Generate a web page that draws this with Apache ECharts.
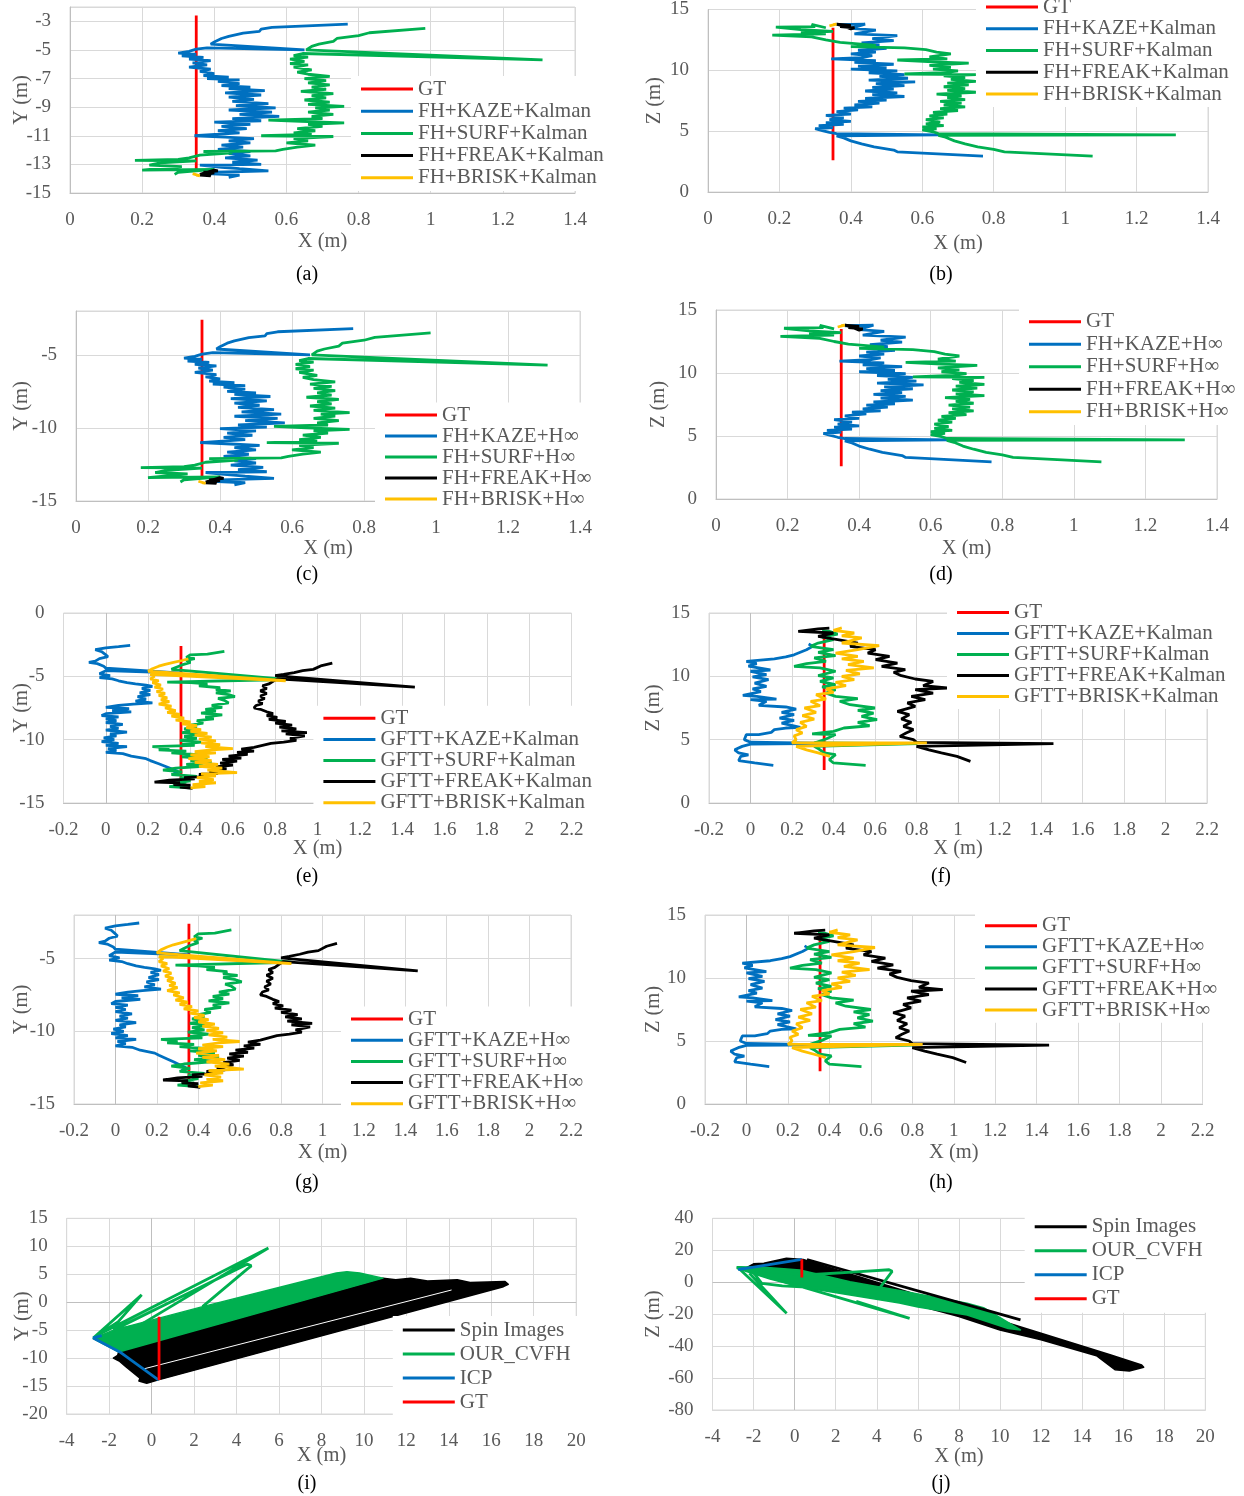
<!DOCTYPE html>
<html>
<head>
<meta charset="utf-8">
<title>Trajectory comparison</title>
<script src="https://cdn.jsdelivr.net/npm/echarts@6/dist/echarts.min.js"></script>
<style>
  html, body { margin: 0; padding: 0; background: #fff; }
  #chart { width: 1244px; height: 1496px; }
</style>
</head>
<body>
<div id="chart"></div>
<script>
// ---- legend names ----
const namesFhKalman = ['GT', 'FH+KAZE+Kalman', 'FH+SURF+Kalman', 'FH+FREAK+Kalman', 'FH+BRISK+Kalman'];
const namesFhHinf = ['GT', 'FH+KAZE+H∞', 'FH+SURF+H∞', 'FH+FREAK+H∞', 'FH+BRISK+H∞'];
const namesGfKalman = ['GT', 'GFTT+KAZE+Kalman', 'GFTT+SURF+Kalman', 'GFTT+FREAK+Kalman', 'GFTT+BRISK+Kalman'];
const namesGfHinf = ['GT', 'GFTT+KAZE+H∞', 'GFTT+SURF+H∞', 'GFTT+FREAK+H∞', 'GFTT+BRISK+H∞'];
const names3D = ['Spin Images', 'OUR_CVFH', 'ICP', 'GT'];

// ---- axis ranges [min, max, interval] ----
const xRangeFH = [0, 1.4, 0.2];
const xRangeGF = [-0.2, 2.2, 0.2];
const xRange3D = [-4, 20, 2];
const yRangeA = [-15, -2, 2];
const yRangeC = [-15, -2, 5];
const yRangeE = [-15, 0, 5];
const zRange = [0, 15, 5];
const yRangeI = [-20, 15, 5];
const zRangeJ = [-80, 40, 20];

// ---- FH, X-Y plane (a, c) ----
const gtFhXY = [[0.35, -2.6], [0.35, -13.5]];
const fhKazeXY = [[0.77,-3.2],[0.56,-3.42],[0.53,-3.55],[0.525,-3.7],[0.48,-3.82],[0.44,-4.05],[0.42,-4.2],[0.40,-4.45],[0.39,-4.6],[0.385,-4.72],[0.65,-5.0],[0.38,-4.85],[0.35,-4.95],[0.33,-5.1],[0.30,-5.22],[0.35,-5.3],[0.31,-5.42],[0.37,-5.52],[0.33,-5.65],[0.39,-5.75],[0.34,-5.9],[0.38,-6.05],[0.33,-6.2],[0.39,-6.35],[0.36,-6.5],[0.40,-6.65],[0.37,-6.8],[0.44,-6.9],[0.38,-7.0],[0.47,-7.1],[0.41,-7.2],[0.47,-7.35],[0.42,-7.5],[0.50,-7.6],[0.44,-7.7],[0.54,-7.85],[0.43,-8.0],[0.53,-8.15],[0.44,-8.3],[0.51,-8.45],[0.45,-8.6],[0.55,-8.75],[0.46,-8.9],[0.57,-9.05],[0.44,-9.2],[0.56,-9.35],[0.47,-9.5],[0.58,-9.65],[0.45,-9.8],[0.53,-9.95],[0.40,-10.05],[0.50,-10.2],[0.42,-10.35],[0.49,-10.5],[0.41,-10.65],[0.47,-10.8],[0.345,-11.0],[0.43,-11.1],[0.51,-11.2],[0.44,-11.35],[0.50,-11.5],[0.42,-11.65],[0.48,-11.8],[0.41,-11.95],[0.50,-12.1],[0.44,-12.25],[0.50,-12.4],[0.43,-12.55],[0.52,-12.7],[0.45,-12.85],[0.53,-13.0],[0.36,-13.05],[0.42,-13.2],[0.47,-13.3],[0.55,-13.45],[0.40,-13.55],[0.38,-13.65],[0.47,-13.75],[0.44,-13.9]];
const fhSurfXY = [[0.985,-3.5],[0.83,-3.8],[0.80,-4.0],[0.74,-4.2],[0.73,-4.4],[0.69,-4.6],[0.67,-4.75],[0.655,-5.0],[1.31,-5.7],[0.645,-5.25],[0.62,-5.4],[0.66,-5.5],[0.61,-5.65],[0.65,-5.8],[0.61,-5.95],[0.66,-6.05],[0.62,-6.2],[0.67,-6.4],[0.63,-6.55],[0.66,-6.7],[0.72,-6.85],[0.65,-7.0],[0.71,-7.15],[0.66,-7.3],[0.72,-7.45],[0.67,-7.6],[0.71,-7.75],[0.64,-7.9],[0.73,-8.05],[0.67,-8.2],[0.71,-8.35],[0.65,-8.5],[0.72,-8.65],[0.66,-8.8],[0.76,-8.95],[0.68,-9.05],[0.72,-9.2],[0.66,-9.35],[0.73,-9.5],[0.67,-9.65],[0.70,-9.8],[0.55,-9.9],[0.64,-10.0],[0.76,-10.1],[0.66,-10.2],[0.70,-10.35],[0.63,-10.5],[0.68,-10.65],[0.62,-10.8],[0.67,-10.9],[0.53,-11.0],[0.73,-11.05],[0.62,-11.2],[0.66,-11.35],[0.60,-11.5],[0.68,-11.65],[0.63,-11.8],[0.59,-11.95],[0.57,-12.05],[0.37,-12.1],[0.45,-12.2],[0.36,-12.35],[0.33,-12.55],[0.30,-12.65],[0.18,-12.72],[0.35,-12.75],[0.25,-12.9],[0.22,-13.05],[0.31,-13.15],[0.20,-13.4],[0.40,-13.35],[0.30,-13.55],[0.29,-13.7]];
const fhFreakXY = [[0.36,-13.7],[0.40,-13.4],[0.41,-13.45],[0.37,-13.55],[0.40,-13.6],[0.36,-13.75],[0.39,-13.8],[0.38,-13.65]];
const fhBriskXY = [[0.34,-13.65],[0.36,-13.8],[0.35,-13.75]];

// ---- FH, X-Z plane (b, d) ----
const gtFhXZ = [[0.35, 2.6], [0.35, 13.5]];
const fhKazeXZ = [[0.77,2.95],[0.53,3.3],[0.52,3.45],[0.465,3.7],[0.43,3.95],[0.40,4.2],[0.38,4.45],[0.36,4.62],[0.65,4.7],[0.36,4.8],[0.34,4.9],[0.32,5.05],[0.30,5.2],[0.35,5.3],[0.31,5.45],[0.38,5.55],[0.33,5.7],[0.40,5.8],[0.34,5.95],[0.38,6.1],[0.33,6.3],[0.40,6.4],[0.36,6.6],[0.42,6.75],[0.38,6.9],[0.46,7.0],[0.41,7.15],[0.48,7.3],[0.42,7.45],[0.50,7.55],[0.44,7.7],[0.55,7.85],[0.46,8.0],[0.53,8.15],[0.44,8.3],[0.52,8.45],[0.46,8.6],[0.55,8.75],[0.47,8.9],[0.58,9.05],[0.45,9.2],[0.56,9.35],[0.48,9.5],[0.55,9.65],[0.45,9.8],[0.53,9.95],[0.40,10.1],[0.50,10.2],[0.42,10.35],[0.52,10.5],[0.41,10.65],[0.47,10.8],[0.345,10.95],[0.43,11.05],[0.46,11.2],[0.40,11.35],[0.47,11.5],[0.42,11.65],[0.50,11.8],[0.44,11.95],[0.48,12.1],[0.43,12.25],[0.52,12.45],[0.46,12.6],[0.53,12.85],[0.41,13.0],[0.47,13.3],[0.40,13.45],[0.44,13.8],[0.36,13.75]];
const fhSurfXZ = [[1.077,2.95],[0.83,3.3],[0.80,3.5],[0.755,3.7],[0.72,3.95],[0.69,4.2],[0.665,4.5],[0.645,4.65],[1.31,4.7],[0.645,4.8],[0.63,4.95],[0.60,5.1],[0.64,5.2],[0.60,5.35],[0.66,5.45],[0.61,5.6],[0.65,5.75],[0.61,5.95],[0.66,6.1],[0.62,6.25],[0.67,6.4],[0.63,6.55],[0.70,6.7],[0.65,6.85],[0.72,7.0],[0.66,7.15],[0.71,7.3],[0.65,7.45],[0.72,7.6],[0.67,7.75],[0.71,7.9],[0.64,8.05],[0.75,8.2],[0.67,8.35],[0.72,8.5],[0.66,8.65],[0.73,8.8],[0.67,8.95],[0.75,9.1],[0.68,9.25],[0.72,9.4],[0.66,9.55],[0.75,9.65],[0.55,9.7],[0.66,9.8],[0.70,9.95],[0.63,10.1],[0.68,10.25],[0.62,10.4],[0.73,10.6],[0.63,10.7],[0.53,10.85],[0.67,10.95],[0.62,11.1],[0.68,11.35],[0.64,11.5],[0.61,11.7],[0.55,11.85],[0.40,11.95],[0.47,12.05],[0.37,12.3],[0.33,12.5],[0.29,12.75],[0.18,12.9],[0.33,13.0],[0.26,13.1],[0.35,13.2],[0.26,13.35],[0.19,13.55],[0.30,13.6],[0.29,13.78],[0.33,13.5]];
const fhFreakXZ = [[0.37,13.75],[0.40,13.4],[0.41,13.5],[0.37,13.6],[0.40,13.7],[0.36,13.8],[0.39,13.55]];
const fhBriskXZ = [[0.34,13.65],[0.36,13.8],[0.35,13.75]];

// ---- GFTT, X-Y plane (e, g) ----
const gtGfXY = [[0.355, -2.6], [0.355, -13.7]];
const gfKazeXY = [[0.115,-2.55],[0.06,-2.65],[0.0,-2.75],[-0.05,-2.9],[-0.02,-3.05],[0.0,-3.3],[0.01,-3.45],[-0.03,-3.6],[-0.05,-3.8],[-0.08,-3.9],[-0.04,-4.0],[-0.01,-4.2],[0.0,-4.35],[0.36,-4.75],[0.0,-4.55],[-0.03,-4.8],[0.02,-4.95],[-0.03,-5.1],[0.03,-5.2],[0.06,-5.35],[0.10,-5.5],[0.14,-5.6],[0.19,-5.7],[0.22,-5.8],[0.17,-5.95],[0.21,-6.1],[0.16,-6.3],[0.21,-6.45],[0.15,-6.6],[0.19,-6.8],[0.14,-6.95],[0.22,-7.1],[0.13,-7.2],[0.06,-7.3],[0.0,-7.45],[0.11,-7.55],[0.03,-7.7],[0.12,-7.8],[0.0,-7.95],[-0.02,-8.1],[0.06,-8.2],[0.0,-8.35],[0.05,-8.5],[0.0,-8.65],[0.08,-8.8],[0.02,-8.95],[0.06,-9.1],[0.0,-9.25],[0.1,-9.4],[0.02,-9.55],[0.05,-9.7],[-0.01,-9.85],[0.04,-10.0],[-0.02,-10.15],[0.06,-10.3],[0.0,-10.45],[0.1,-10.55],[0.01,-10.7],[0.05,-10.85],[0.0,-11.0],[0.08,-11.1],[0.12,-11.3],[0.19,-11.5],[0.21,-11.65],[0.25,-11.9],[0.28,-12.1],[0.31,-12.3],[0.34,-12.5],[0.32,-12.7]];
const gfSurfXY = [[0.56,-3.03],[0.48,-3.25],[0.40,-3.3],[0.38,-3.5],[0.42,-3.6],[0.38,-3.75],[0.40,-3.9],[0.36,-4.1],[0.33,-4.3],[0.31,-4.45],[0.85,-5.25],[0.29,-5.45],[0.40,-5.5],[0.48,-5.6],[0.44,-5.75],[0.54,-5.9],[0.52,-6.05],[0.59,-6.15],[0.52,-6.3],[0.58,-6.45],[0.61,-6.6],[0.53,-6.75],[0.56,-6.9],[0.58,-7.1],[0.50,-7.3],[0.55,-7.45],[0.47,-7.6],[0.52,-7.75],[0.45,-7.9],[0.55,-8.05],[0.47,-8.2],[0.51,-8.35],[0.43,-8.5],[0.46,-8.7],[0.40,-8.85],[0.43,-9.0],[0.37,-9.15],[0.42,-9.3],[0.36,-9.45],[0.44,-9.6],[0.37,-9.75],[0.43,-9.9],[0.35,-10.05],[0.45,-10.2],[0.36,-10.35],[0.42,-10.45],[0.22,-10.55],[0.30,-10.65],[0.25,-10.8],[0.38,-10.9],[0.31,-11.05],[0.45,-11.2],[0.36,-11.35],[0.48,-11.5],[0.40,-11.65],[0.50,-11.8],[0.38,-11.95],[0.46,-12.1],[0.33,-12.25],[0.27,-12.4],[0.36,-12.55],[0.31,-12.75],[0.43,-12.9],[0.35,-13.05],[0.40,-13.25],[0.32,-13.45],[0.38,-13.55],[0.30,-13.7],[0.40,-13.8]];
const gfFreakXY = [[1.07,-3.95],[1.02,-4.15],[0.98,-4.45],[0.93,-4.55],[0.89,-4.7],[0.84,-4.85],[0.80,-4.95],[1.46,-5.85],[0.81,-5.2],[0.79,-5.4],[0.77,-5.6],[0.74,-5.75],[0.76,-5.95],[0.73,-6.15],[0.76,-6.35],[0.73,-6.55],[0.75,-6.75],[0.72,-6.95],[0.74,-7.15],[0.71,-7.3],[0.70,-7.5],[0.73,-7.6],[0.76,-7.8],[0.79,-7.95],[0.76,-8.1],[0.81,-8.25],[0.77,-8.4],[0.85,-8.55],[0.80,-8.7],[0.88,-8.85],[0.82,-9.0],[0.90,-9.15],[0.83,-9.3],[0.95,-9.45],[0.85,-9.55],[0.94,-9.7],[0.87,-9.9],[0.90,-10.05],[0.84,-10.2],[0.78,-10.3],[0.74,-10.45],[0.70,-10.6],[0.64,-10.75],[0.70,-10.9],[0.62,-11.0],[0.67,-11.15],[0.58,-11.3],[0.64,-11.45],[0.55,-11.55],[0.62,-11.7],[0.54,-11.85],[0.60,-12.0],[0.52,-12.15],[0.57,-12.3],[0.49,-12.5],[0.53,-12.65],[0.44,-12.75],[0.48,-12.9],[0.37,-13.0],[0.42,-13.1],[0.30,-13.2],[0.23,-13.35],[0.35,-13.4],[0.32,-13.55],[0.40,-13.6],[0.35,-13.75],[0.41,-13.85]];
const gfBriskXY = [[0.39,-3.63],[0.36,-3.75],[0.32,-3.9],[0.28,-4.05],[0.25,-4.2],[0.22,-4.4],[0.20,-4.6],[0.85,-5.35],[0.21,-4.85],[0.23,-5.0],[0.21,-5.2],[0.25,-5.35],[0.22,-5.5],[0.26,-5.7],[0.23,-5.85],[0.27,-6.0],[0.24,-6.2],[0.28,-6.35],[0.25,-6.5],[0.29,-6.7],[0.26,-6.85],[0.30,-7.0],[0.25,-7.2],[0.31,-7.35],[0.28,-7.5],[0.33,-7.7],[0.29,-7.85],[0.35,-8.0],[0.31,-8.15],[0.37,-8.3],[0.33,-8.45],[0.40,-8.6],[0.36,-8.75],[0.43,-8.9],[0.38,-9.05],[0.45,-9.2],[0.40,-9.35],[0.48,-9.5],[0.42,-9.65],[0.50,-9.8],[0.44,-9.95],[0.52,-10.1],[0.45,-10.25],[0.54,-10.4],[0.47,-10.55],[0.60,-10.7],[0.50,-10.8],[0.42,-10.95],[0.52,-11.05],[0.40,-11.2],[0.49,-11.35],[0.39,-11.5],[0.50,-11.65],[0.42,-11.8],[0.53,-11.95],[0.44,-12.1],[0.55,-12.25],[0.48,-12.4],[0.62,-12.6],[0.45,-12.7],[0.52,-12.85],[0.43,-13.0],[0.51,-13.15],[0.44,-13.3],[0.52,-13.4],[0.41,-13.55],[0.47,-13.7],[0.40,-13.8]];

// ---- GFTT, X-Z plane (f, h) ----
const gtGfXZ = [[0.355, 2.6], [0.355, 13.5]];
const gfKazeXZ = [[0.11,2.97],[0.02,3.16],[-0.057,3.34],[-0.047,3.68],[-0.01,3.8],[-0.057,3.95],[-0.076,4.2],[-0.04,4.47],[0.0,4.65],[0.38,4.7],[0.0,4.8],[-0.03,5.0],[-0.02,5.4],[0.04,5.4],[0.1,5.58],[0.115,5.79],[0.17,5.92],[0.24,5.97],[0.15,6.3],[0.21,6.52],[0.14,6.7],[0.21,6.97],[0.15,7.16],[0.22,7.42],[0.17,7.58],[0.04,7.71],[0.077,8.03],[0.0,8.16],[0.125,8.2],[0.03,8.42],[-0.037,8.5],[0.05,8.8],[0.01,9.0],[0.077,9.2],[0.02,9.47],[0.087,9.74],[0.01,9.95],[0.077,10.13],[0.0,10.4],[0.096,10.5],[-0.01,10.8],[0.03,11.0],[-0.02,11.18],[0.115,11.37],[0.17,11.53],[0.21,11.7],[0.27,12.1],[0.3,12.37],[0.28,12.55]];
const gfSurfXZ = [[0.555,2.97],[0.40,3.16],[0.38,3.42],[0.41,3.82],[0.355,3.95],[0.33,4.26],[0.307,4.47],[0.804,4.68],[0.307,4.74],[0.364,5.05],[0.41,5.4],[0.297,5.45],[0.40,5.66],[0.45,5.92],[0.574,6.1],[0.517,6.37],[0.61,6.58],[0.535,6.84],[0.593,7.1],[0.517,7.32],[0.60,7.5],[0.48,7.76],[0.43,8.03],[0.517,8.24],[0.41,8.42],[0.364,8.68],[0.41,8.95],[0.345,9.16],[0.41,9.34],[0.335,9.6],[0.40,9.87],[0.326,10.05],[0.41,10.4],[0.335,10.66],[0.21,10.79],[0.27,11.0],[0.364,11.18],[0.307,11.45],[0.41,11.63],[0.326,11.9],[0.40,12.1],[0.29,12.37],[0.326,12.63],[0.40,12.9],[0.345,13.1],[0.42,13.34],[0.38,13.55],[0.345,13.6]];
const gfFreakXZ = [[1.06,3.29],[0.995,3.68],[0.92,3.95],[0.86,4.2],[0.80,4.47],[1.46,4.68],[0.80,4.79],[0.785,5.0],[0.72,5.26],[0.75,5.53],[0.785,5.79],[0.737,6.05],[0.775,6.37],[0.727,6.63],[0.765,6.97],[0.708,7.24],[0.794,7.63],[0.756,7.9],[0.842,8.16],[0.775,8.42],[0.88,8.68],[0.794,8.95],[0.947,9.08],[0.832,9.26],[0.88,9.6],[0.794,9.79],[0.727,10.05],[0.69,10.32],[0.746,10.53],[0.632,10.79],[0.708,11.05],[0.603,11.32],[0.67,11.58],[0.565,11.84],[0.603,12.1],[0.48,12.37],[0.517,12.63],[0.42,12.9],[0.326,13.16],[0.40,13.42],[0.23,13.55],[0.326,13.74],[0.38,13.8]];
const gfBriskXZ = [[0.383,3.68],[0.326,3.95],[0.27,4.2],[0.22,4.47],[0.85,4.74],[0.2,4.74],[0.22,5.0],[0.21,5.3],[0.25,5.53],[0.22,5.79],[0.27,6.05],[0.24,6.37],[0.307,6.63],[0.25,6.9],[0.316,7.16],[0.26,7.5],[0.335,7.68],[0.29,8.03],[0.364,8.2],[0.316,8.55],[0.40,8.74],[0.364,9.0],[0.46,9.26],[0.41,9.53],[0.50,9.74],[0.44,10.0],[0.527,10.2],[0.46,10.47],[0.594,10.66],[0.47,10.92],[0.546,11.18],[0.44,11.37],[0.517,11.58],[0.41,11.84],[0.517,12.1],[0.62,12.42],[0.44,12.63],[0.536,13.03],[0.44,13.2],[0.5,13.42],[0.40,13.63],[0.44,13.82]];

// ---- point cloud methods, X-Y plane (i) ----
const gtI = [[0.35, -2.6], [0.35, -13.9]];
const icpI = [[0.32,-13.9],[-1.5,-8.9],[-2.75,-6.4],[-2.35,-6.0]];
const cvfhLoopsI = [[-2.75,-6.4],[-0.47,1.3],[-1.6,-3.6],[-2.6,-6.0],[5.5,9.7],[-0.55,-4.1],[-1.8,-5.0],[4.5,6.8],[4.7,6.5],[4.5,5.9],[2.4,-0.8]];
const cvfhFillI = [[-2.75,-6.5],[-1.8,-5.0],[2.4,-0.8],[8.7,5.2],[9.2,5.45],[9.8,5.2],[10.9,4.3],[-1.55,-8.9],[-2.3,-7.4]];
const spinFillI = [[-1.55,-8.9],[10.9,4.3],[11.5,4.0],[12.2,4.3],[13.0,3.8],[14.4,4.0],[15.0,3.5],[16.65,3.7],[16.8,3.2],[16.57,2.77],[0.32,-13.9],[-0.23,-14.5],[-0.6,-14.1],[-0.55,-13.6],[-1.2,-11.6],[-1.5,-10.6],[-1.8,-10.0],[-1.6,-9.5]];
const spinGapI = [[-0.39,-11.95],[14.13,2.18]];

// ---- point cloud methods, X-Z plane (j) ----
const gtJ = [[0.35, 3.0], [0.35, 14.3]];
const icpJ = [[0.35,14.3],[-2.75,7.8],[-2.5,8.6]];
const spinFillJ = [[-2.0,11.5],[-1.5,11.8],[-0.4,15.0],[0.42,14.2],[4,0.0],[8,-16.0],[12,-32],[15.4,-45.6],[16.9,-51.8],[17.0,-53.2],[16.3,-55.6],[15.6,-54.8],[14.7,-46],[12,-36],[10,-29.9],[8,-21.5],[4,-7.5],[0,3],[-2.5,8]];
const spinLineJ = [[0.6,14.2],[11.0,-23.6]];
const cvfhBandJ = [[-2.8,9.6],[-1.5,9.4],[0.26,7.6],[2.7,0.3],[5.1,-5.2],[8.4,-13.2],[9.2,-16.0],[11.0,-29.9],[10.4,-29.0],[8.4,-20.5],[6.0,-15.5],[5.1,-13.0],[2.7,-8.0],[0.3,-3.0],[-1.2,2.0],[-2.8,8.6]];
const cvfhLoopsJ = [[-2.2,5.6],[-0.39,-19.5],[-2.75,9.0],[0.5,4.5],[3.0,6.5],[4.6,7.8],[4.75,6.8],[4.0,-6.0],[2.5,-4.5],[0.1,-2.8],[-0.6,-2.3],[-1.6,-0.7],[-2.0,6.0],[5.6,-22.6],[3.0,-12.0]];

// ---- styling ----
const FONT = '"Liberation Serif", "Times New Roman", serif';
const TEXT = '#595959';
const GRID_LINE = '#d9d9d9';
const AXIS_LINE = '#bfbfbf';
const seriesColor = {
  'GT': '#FF0000', 'ICP': '#0070C0', 'OUR_CVFH': '#00B050', 'Spin Images': '#000000'
};
function colorOf(name) {
  if (seriesColor[name]) return seriesColor[name];
  if (name.includes('KAZE')) return '#0070C0';
  if (name.includes('SURF')) return '#00B050';
  if (name.includes('FREAK')) return '#000000';
  return '#FFC000';
}

// ---- panel layout (pixels) ----
const panels = [
  { id: 'a', rect: [70, 7, 505, 186], x: xRangeFH, y: yRangeA, yName: 'Y (m)', xGap: 38, yGap: 38,
    names: namesFhKalman, lines: [gtFhXY, fhKazeXY, fhSurfXY, fhFreakXY, fhBriskXY],
    legend: [361, 89, 22.2], cap: [307, 275] },
  { id: 'b', rect: [708, 7, 500, 185], x: xRangeFH, y: zRange, yName: 'Z (m)', xGap: 41, yGap: 43,
    names: namesFhKalman, lines: [gtFhXZ, fhKazeXZ, fhSurfXZ, fhFreakXZ, fhBriskXZ],
    legend: [986, 7, 21.75], cap: [941, 275] },
  { id: 'c', rect: [76, 311, 504, 190], x: xRangeFH, y: yRangeC, yName: 'Y (m)', xGap: 37, yGap: 44,
    names: namesFhHinf, lines: [gtFhXY, fhKazeXY, fhSurfXY, fhFreakXY, fhBriskXY],
    legend: [385, 415, 21], cap: [307, 575] },
  { id: 'd', rect: [716, 310, 501, 189], x: xRangeFH, y: zRange, yName: 'Z (m)', xGap: 39, yGap: 47,
    names: namesFhHinf, lines: [gtFhXZ, fhKazeXZ, fhSurfXZ, fhFreakXZ, fhBriskXZ],
    legend: [1029, 321.7, 22.5], cap: [941, 575] },
  { id: 'e', rect: [63.5, 613, 508, 190], x: xRangeGF, y: yRangeE, yName: 'Y (m)', xGap: 35, yGap: 31,
    names: namesGfKalman, lines: [gtGfXY, gfKazeXY, gfSurfXY, gfFreakXY, gfBriskXY],
    legend: [323.4, 718.3, 21.1], cap: [307, 877], zeroX: true },
  { id: 'f', rect: [709, 613, 498, 190], x: xRangeGF, y: zRange, yName: 'Z (m)', xGap: 35, yGap: 45,
    names: namesGfKalman, lines: [gtGfXZ, gfKazeXZ, gfSurfXZ, gfFreakXZ, gfBriskXZ],
    legend: [957, 612.3, 20.7], cap: [941, 877], zeroX: true },
  { id: 'g', rect: [74, 915, 497, 189], x: xRangeGF, y: yRangeC, yName: 'Y (m)', xGap: 38, yGap: 42,
    names: namesGfHinf, lines: [gtGfXY, gfKazeXY, gfSurfXY, gfFreakXY, gfBriskXY],
    legend: [351, 1019, 21.2], cap: [307, 1183], zeroX: true },
  { id: 'h', rect: [705, 915, 497.5, 189], x: xRangeGF, y: zRange, yName: 'Z (m)', xGap: 38, yGap: 41,
    names: namesGfHinf, lines: [gtGfXZ, gfKazeXZ, gfSurfXZ, gfFreakXZ, gfBriskXZ],
    legend: [985, 925.7, 21.1], cap: [941, 1183], zeroX: true },
  { id: 'i', rect: [66.7, 1218.3, 509.5, 195.7], x: xRange3D, y: yRangeI, yName: 'Y (m)', xGap: 31, yGap: 34,
    names: names3D, legend: [402.8, 1330, 24], cap: [307, 1484], zeroX: true, zeroY: true },
  { id: 'j', rect: [712.5, 1218.3, 492.8, 191.7], x: xRange3D, y: zRangeJ, yName: 'Z (m)', xGap: 36, yGap: 48,
    names: names3D, legend: [1034.7, 1226.7, 24], cap: [941, 1484], zeroX: true, zeroY: true }
];

const chart = echarts.init(document.getElementById('chart'), null, { renderer: 'canvas' });

const option = {
  animation: false,
  backgroundColor: '#fff',
  grid: [], xAxis: [], yAxis: [], legend: [], series: [], graphic: []
};

function lineSeries(name, data, i, width, color) {
  const c = color || colorOf(name);
  return {
    type: 'line', name: name, xAxisIndex: i, yAxisIndex: i, data: data,
    showSymbol: false, symbol: 'none', silent: true,
    lineStyle: { width: width || 2.8, color: c }, itemStyle: { color: c },
    emphasis: { disabled: true }
  };
}

function polySeries(name, poly, i) {
  const c = colorOf(name);
  return {
    type: 'custom', name: name, xAxisIndex: i, yAxisIndex: i, silent: true,
    data: [poly[0]],
    itemStyle: { color: c },
    renderItem: (params, api) => ({
      type: 'polygon',
      shape: { points: poly.map(p => api.coord(p)) },
      style: { fill: c, stroke: c, lineWidth: 1.5, lineJoin: 'round' }
    })
  };
}

panels.forEach((p, i) => {
  const [left, top, width, height] = p.rect;
  option.grid.push({ left, top, width, height, show: true, borderColor: GRID_LINE, borderWidth: 1 });

  option.xAxis.push({
    type: 'value', gridIndex: i, min: p.x[0], max: p.x[1], interval: p.x[2],
    axisLine: { show: true, onZero: false, lineStyle: { color: p.zeroY ? GRID_LINE : AXIS_LINE } },
    axisTick: { show: false },
    splitLine: { show: true, lineStyle: { color: GRID_LINE, width: 1 } },
    axisLabel: { color: TEXT, fontSize: 19, fontFamily: FONT, margin: 18 },
    name: 'X (m)', nameLocation: 'middle', nameGap: p.xGap, nameMoveOverlap: false,
    nameTextStyle: { color: TEXT, fontSize: 20.5, fontFamily: FONT }
  });

  const steps = (p.y[1] - p.y[0]) / p.y[2];
  const yOnGrid = Math.abs(steps - Math.round(steps)) < 1e-9;
  option.yAxis.push({
    type: 'value', gridIndex: i, min: p.y[0], max: p.y[1], interval: p.y[2],
    axisLine: { show: !p.zeroX, onZero: false, lineStyle: { color: AXIS_LINE } },
    axisTick: { show: false },
    splitLine: { show: true, lineStyle: { color: GRID_LINE, width: 1 } },
    axisLabel: { color: TEXT, fontSize: 19, fontFamily: FONT, margin: 19, showMaxLabel: yOnGrid },
    name: p.yName, nameLocation: 'middle', nameGap: p.yGap, nameMoveOverlap: false,
    nameTextStyle: { color: TEXT, fontSize: 20.5, fontFamily: FONT }
  });

  // zero lines where the axes cross inside the plot
  if (p.zeroX || p.zeroY) {
    const marks = [];
    if (p.zeroX) marks.push({ xAxis: 0 });
    if (p.zeroY) marks.push({ yAxis: 0 });
    option.series.push({
      type: 'line', name: 'zero-' + p.id, xAxisIndex: i, yAxisIndex: i, data: [], silent: true, z: 1,
      markLine: {
        silent: true, symbol: ['none', 'none'], z: 1, animation: false,
        label: { show: false }, emphasis: { disabled: true },
        lineStyle: { color: AXIS_LINE, width: 1, type: 'solid' },
        data: marks
      }
    });
  }

  if (p.lines) {
    p.names.forEach((n, k) => option.series.push(lineSeries(n, p.lines[k], i)));
  } else if (p.id === 'i') {
    option.series.push(polySeries('Spin Images', spinFillI, i));
    option.series.push(lineSeries('spin-gap', spinGapI, i, 1, '#ffffff'));
    option.series.push(polySeries('OUR_CVFH', cvfhFillI, i));
    option.series.push(lineSeries('OUR_CVFH', cvfhLoopsI, i));
    option.series.push(lineSeries('ICP', icpI, i));
    option.series.push(lineSeries('GT', gtI, i));
  } else {
    option.series.push(polySeries('Spin Images', spinFillJ, i));
    option.series.push(lineSeries('Spin Images', spinLineJ, i));
    option.series.push(polySeries('OUR_CVFH', cvfhBandJ, i));
    option.series.push(lineSeries('OUR_CVFH', cvfhLoopsJ, i));
    option.series.push(lineSeries('ICP', icpJ, i));
    option.series.push(lineSeries('GT', gtJ, i));
  }

  const [iconLeft, firstY, lh] = p.legend;
  option.legend.push({
    orient: 'vertical', left: iconLeft - 10, top: firstY - lh / 2 - 2,
    padding: [2, 14, 2, 10], itemGap: 0, itemWidth: 52, itemHeight: 3, icon: 'rect',
    backgroundColor: '#fff', selectedMode: false, z: 10,
    textStyle: { color: TEXT, fontSize: 21, fontFamily: FONT, lineHeight: lh },
    data: p.names.map(n => ({ name: n, itemStyle: { color: colorOf(n) } }))
  });

  option.graphic.push({
    type: 'text', x: p.cap[0], y: p.cap[1], silent: true,
    style: {
      text: '(' + p.id + ')', fill: '#000', fontSize: 20, fontFamily: FONT,
      align: 'center', verticalAlign: 'middle', textAlign: 'center', textVerticalAlign: 'middle'
    }
  });
});

chart.setOption(option);
window.addEventListener('resize', () => chart.resize());
</script>
</body>
</html>
